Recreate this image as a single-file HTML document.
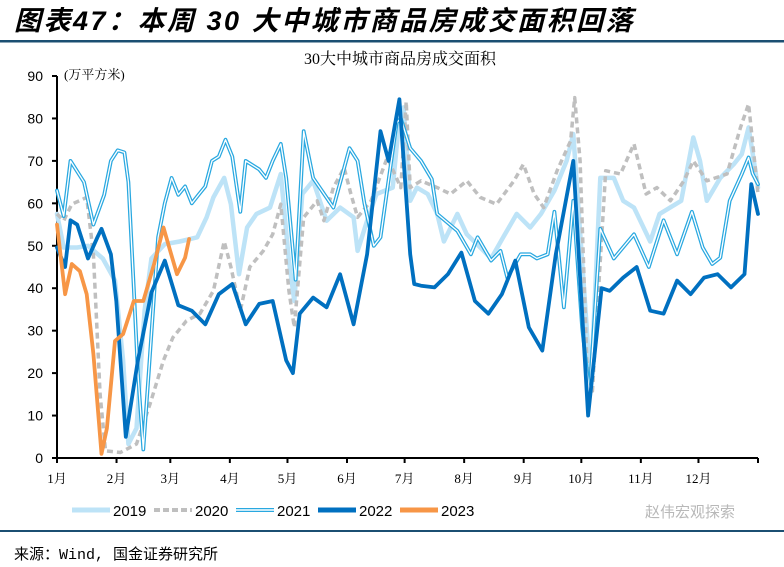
<!DOCTYPE html>
<html><head><meta charset="utf-8">
<style>
body{margin:0;background:#fff;}
svg{display:block;}
</style></head>
<body>
<svg id="chart" width="784" height="567" viewBox="0 0 784 567" xmlns="http://www.w3.org/2000/svg">
  <text x="14" y="30" font-family="'Liberation Sans','Noto Sans CJK SC',sans-serif" font-size="27" font-weight="bold" font-style="italic" letter-spacing="2.5" fill="#000">图表47：本周 30 大中城市商品房成交面积回落</text>
  <rect x="0" y="40" width="784" height="2.5" fill="#1b4f72"/>
  <text x="400" y="64" text-anchor="middle" font-family="'Liberation Serif','Noto Serif CJK SC',serif" font-size="16" fill="#000">30大中城市商品房成交面积</text>
  <text x="64" y="79" font-family="'Liberation Serif','Noto Serif CJK SC',serif" font-size="13" fill="#000">(万平方米)</text>
  <g id="axes"></g>
  <g id="series"></g>
  <g id="legend">
    <line x1="72" y1="510" x2="110" y2="510" stroke="#BDE3F7" stroke-width="5"/>
    <text x="113" y="516" font-family="'Liberation Sans',sans-serif" font-size="15">2019</text>
    <line x1="154" y1="510" x2="192" y2="510" stroke="#BFBFBF" stroke-width="4" stroke-dasharray="6,3"/>
    <text x="195" y="516" font-family="'Liberation Sans',sans-serif" font-size="15">2020</text>
    <line x1="236" y1="510" x2="274" y2="510" stroke="#29A8E0" stroke-width="4"/>
    <line x1="236" y1="510" x2="274" y2="510" stroke="#fff" stroke-width="1.5"/>
    <text x="277" y="516" font-family="'Liberation Sans',sans-serif" font-size="15">2021</text>
    <line x1="318" y1="510" x2="356" y2="510" stroke="#0070C0" stroke-width="5"/>
    <text x="359" y="516" font-family="'Liberation Sans',sans-serif" font-size="15">2022</text>
    <line x1="400" y1="510" x2="438" y2="510" stroke="#F79646" stroke-width="5"/>
    <text x="441" y="516" font-family="'Liberation Sans',sans-serif" font-size="15">2023</text>
  </g>
  <text x="645" y="517" font-family="'Liberation Sans','Noto Sans CJK SC',sans-serif" font-size="15" fill="#b8b8b8">赵伟宏观探索</text>
  <rect x="0" y="530" width="784" height="2" fill="#1b4f72"/>
  <text x="14" y="559" font-family="'Liberation Mono','Noto Sans CJK SC',monospace" font-size="15" fill="#000">来源：Wind, 国金证券研究所</text>
</svg>
<script>
// data: weeks (x) and values (万平方米)
const yTicks = [0,10,20,30,40,50,60,70,80,90];
const monthLabels = ["1月","2月","3月","4月","5月","6月","7月","8月","9月","10月","11月","12月"];
const monthStartDays = [0,31,59,90,120,151,181,212,243,273,304,334,365];

const weeks2019 = [0,0.5,1.5,2.3,3.4,4.3,4.9,5.3,5.9,6.5,7,8,9.1,10.4,11.1,11.6,12.4,12.9,13.5,14.1,14.8,15.8,16.6,17.2,17.6,18.2,19,20,21,22,22.3,23,23.7,24.9,25.4,25.7,26.2,26.7,27.5,28.2,28.7,29.7,30.4,31.4,32.2,33.1,34.1,35.1,35.9,36.9,37.8,38.3,38.95,39.6,40.3,41.3,42,42.8,44,44.7,46.3,47.2,47.7,48.2,49.2,50.2,50.8,51.3,52];
const values2019 = [57.5,49.6,49.6,50,47,41.8,23,3.3,7,34.7,47,50.4,51,52,56.7,61.4,66,59.8,43.3,54.3,57.5,59,66.9,46.5,37,62.2,65.3,55.9,59,56.7,48.8,55.9,62.2,63.7,80,82.6,60.6,63.7,62.2,57.5,51,57.5,52.7,49.6,47,52,57.5,54.3,57.5,63,70,76.3,46.5,16.6,66,66,60.6,59,51,57.5,60.6,75.5,70,60.6,66,69.2,71.6,77.9,63.7];

const weeks2020 = [0,0.5,1.1,2.2,2.7,3.2,3.6,4.7,5.9,6.9,7.9,8.6,9.6,10.6,11.6,12.4,12.9,13.6,14.3,15.3,16,16.6,17.2,17.6,18.3,19.3,19.8,20.5,21.3,21.8,22.3,23.3,24.5,25.5,25.9,26.2,27,28.2,29.2,30.4,31.4,32.6,33.9,34.6,35.4,36.1,37.1,38.1,38.4,38.8,39.3,39.7,40.3,40.7,41.8,42.8,43.7,44.5,45.5,46.5,47.2,48.2,49.7,50.7,51.3,52];
const values2020 = [57.5,55.9,59.8,61.4,48,15,1.7,1.3,3.3,12.7,23,28.4,32.3,34,39.4,51,45,34.7,45,48.8,52.7,59.8,39.4,30.8,56.7,60.6,55.9,63.7,68.4,62.2,56.7,60.6,70.8,63.7,84,63.7,65.3,63.7,62.2,65.3,61.4,59.8,65.3,69.2,62.2,59,67.7,74.7,84.9,70,23,15,46.5,67.7,66.9,74,62.2,63.7,60.6,65.3,70,65.3,66.9,77.9,83.4,62.2];

const weeks2021 = [0,0.5,1,2,2.7,3.5,4,4.5,5,5.3,5.7,6,6.4,6.8,7.5,8,8.5,9,9.5,10,10.5,11,11.5,12,12.5,13,13.6,14,15,15.5,16,16.6,17,17.7,18.3,19,20.5,21.7,22.3,22.8,23.5,24,25.2,25.5,26.2,27,27.8,28.2,29.7,30.7,31.2,32.2,32.9,33.4,34.4,35.1,35.6,36.4,36.9,37.6,38.3,38.95,39.5,40.3,41.3,42.8,43.9,45,46,47.1,47.9,48.6,49.2,49.9,50.8,51.3,51.6,52];
const values2021 = [63,57,70,65,55,62,70,72.5,72,65,40,20,2,20,52,60,66,62,64,60,62,64,70,71,75,71,58,70,68,66,70,74,66,42,77,66,59,73,70,60,50,52,79,80,73,70,65.7,57.5,53.5,48,52,46.5,48.8,42.5,48,48,47,48,58,35.5,60.6,30.8,15,54,47,52.7,45,56,48,58,49.6,45.7,47.2,60.6,66.9,70.8,67,64.5];

const weeks2022 = [0,0.6,1,1.5,2,2.3,3,3.3,4,4.4,5.1,6,7,8,9,10,11,12,13,14,15,16,17,17.5,18,19,20,21,22,23,24,24.6,25.4,26.2,26.5,27,28,29,30,31,32,33,34,35,36,37,38.3,39.4,40.4,41,42,43,44,45,46,47,48,49,50,51,51.5,52];
const values2022 = [49.6,45,56,55,50,47,52,54,48,37,5,23,39,46.5,36,34.7,31.5,38.6,41,31.5,36.3,37,23,20,34,37.8,35.5,43.3,31.5,48,77,70,84.5,48,41,40.6,40.2,43.3,48.4,37,34,38.6,46.5,30.8,25.3,48,70,10,40,39.4,42.5,45,34.7,34,41.8,38.6,42.5,43.3,40.2,43.3,64.5,57.5];

const weeks2023 = [0,0.6,1.1,1.7,2.2,2.7,3.3,3.7,4.3,4.9,5.7,6.4,7.2,7.9,8.4,8.9,9.5,9.8];
const values2023 = [55,38.6,45.7,44,38.6,24.5,1,7,27.6,29.2,37,37,45.7,54.3,48.8,43.3,47.2,51.6];

const NS = "http://www.w3.org/2000/svg";
const X0 = 57, X1 = 758, Y0 = 458, Y90 = 76;
function xWeek(w){ return X0 + w*(X1-X0)/52; }
function xDay(d){ return X0 + d*(X1-X0)/365; }
function yVal(v){ return Y0 - v*(Y0-Y90)/90; }

const axes = document.getElementById('axes');
function mk(tag, attrs, parent){ const e=document.createElementNS(NS,tag); for(const k in attrs) e.setAttribute(k,attrs[k]); parent.appendChild(e); return e; }

const yAxis = mk('line',{x1:X0,y1:Y90,x2:X0,y2:Y0,stroke:'#000','stroke-width':2},axes);


yTicks.forEach(t=>{
  const y=yVal(t);
  const tk = mk('line',{x1:X0-5,y1:y,x2:X0,y2:y,stroke:'#000','stroke-width':2},axes);
  
  
  const lb = mk('text',{x:X0-14,y:y+5,'text-anchor':'end','font-family':"'Liberation Sans',sans-serif",'font-size':14},axes);
  lb.textContent = t;
  
  
});
const xAxis = mk('line',{x1:X0,y1:Y0,x2:X1,y2:Y0,stroke:'#000','stroke-width':2},axes);


monthStartDays.forEach((d,i)=>{
  const x=xDay(d);
  const tk = mk('line',{x1:x,y1:Y0,x2:x,y2:Y0+5,stroke:'#000','stroke-width':2},axes);
  
  
  if(i<monthLabels.length){
    const lb = mk('text',{x:x,y:Y0+25,'text-anchor':'middle','font-family':"'Liberation Serif','Noto Serif CJK SC',serif",'font-size':13},axes);
    lb.textContent = monthLabels[i];
    
    
  }
});

const sg = document.getElementById('series');
function pts(ws,vs){ return ws.map((w,i)=>xWeek(w).toFixed(1)+','+yVal(vs[i]).toFixed(1)).join(' '); }
function line(ws,vs,attrs,name){
  const p = mk('polyline',Object.assign({points:pts(ws,vs),fill:'none','stroke-linejoin':'round','stroke-linecap':'round'},attrs),sg);
  
  
  return p;
}
line(weeks2019,values2019,{stroke:'#BDE3F7','stroke-width':4.5},'series-2019');
line(weeks2020,values2020,{stroke:'#BFBFBF','stroke-width':3.5,'stroke-dasharray':'6,4','stroke-linecap':'butt'},'series-2020');
line(weeks2021,values2021,{stroke:'#29A8E0','stroke-width':3.8},'series-2021');
line(weeks2021,values2021,{stroke:'#ffffff','stroke-width':1.3},'series-2021-inner');
line(weeks2022,values2022,{stroke:'#0070C0','stroke-width':3.8},'series-2022');
line(weeks2023,values2023,{stroke:'#F79646','stroke-width':3.8},'series-2023');
</script>
</body></html>
